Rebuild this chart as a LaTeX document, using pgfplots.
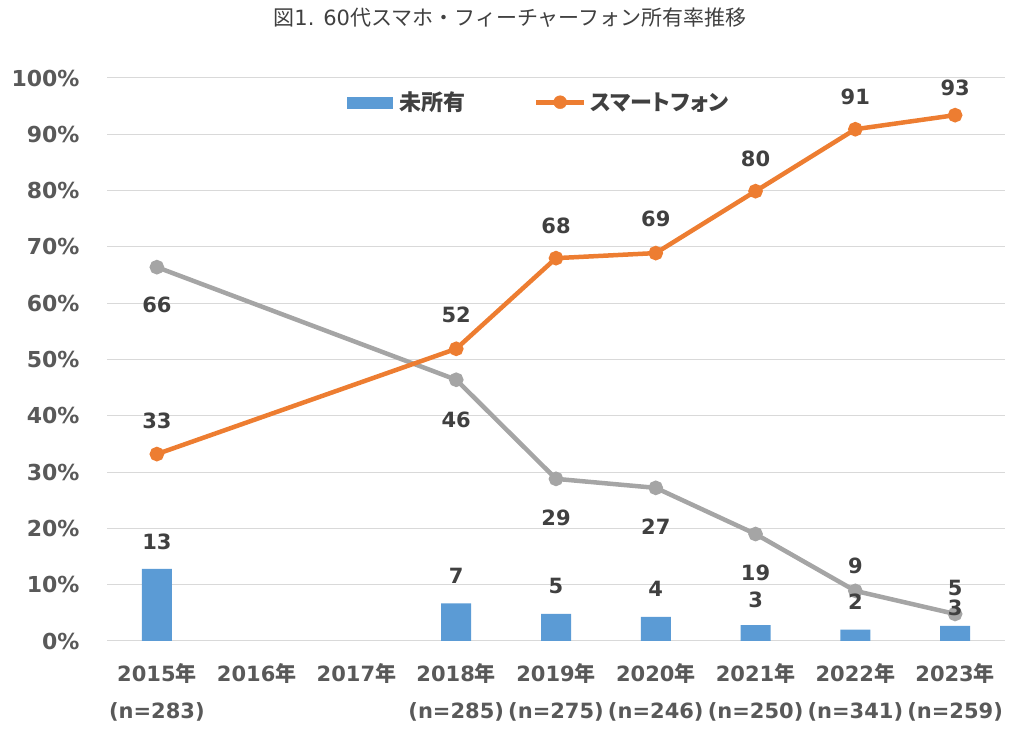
\documentclass[border=0pt]{standalone}
\usepackage{fontspec}
\setmainfont{DejaVu Sans}
\newfontfamily\jp[RawFeature=+palt]{Noto Sans CJK JP}
\newfontfamily\jpt{Noto Sans CJK JP}
\usepackage{pgfplots}
\pgfplotsset{compat=1.18}
\usepackage{pgfplotstable}
\definecolor{cblue}{HTML}{5B9BD5}
\definecolor{corange}{HTML}{ED7D31}
\definecolor{cgray}{HTML}{A5A5A5}
\definecolor{ctext}{HTML}{404040}
\definecolor{ctick}{HTML}{595959}
\definecolor{cgrid}{HTML}{D9D9D9}

\pgfplotstableread{
x bar blab bdy smart slab sdy feat flab fdy
0 12.8 13 27 33.2 33 33 66.4 66 -38
3 6.7 7 27 51.9 52 34 46.4 46 -40
4 4.8 5 28 68.0 68 32 28.8 29 -39
5 4.3 4 28 68.9 69 34 27.2 27 -39
6 2.8 3 25 79.9 80 32 19.0 19 -39
7 2.0 2 28 90.9 91 32 8.9 9 25
8 2.7 3 18 93.4 93 27 4.8 5 26
}\data

\begin{document}
\begin{tikzpicture}
\path[use as bounding box] (0,0) rectangle (1018pt,736pt);
\node[text=ctext, font=\fontsize{21pt}{24pt}\selectfont] at (510pt,718pt) {{\jpt 図}1. 60{\jpt 代スマホ・フィーチャーフォン所有率推移}};
\begin{axis}[
  at={(107pt,95pt)}, anchor=south west,
  scale only axis, width=898pt, height=563pt,
  xmin=-0.5, xmax=8.5, ymin=0, ymax=100,
  clip=false,
  axis line style={draw=none},
  major tick length=0pt,
  ymajorgrids, grid style={color=cgrid, line width=1pt},
  ytick={0,10,...,100},
  yticklabels={0\%,10\%,20\%,30\%,40\%,50\%,60\%,70\%,80\%,90\%,100\%},
  yticklabel style={font=\fontsize{22pt}{26pt}\selectfont\bfseries, text=ctick, anchor=east, xshift=-24pt},
  xtick={0,...,8},
  xticklabels={
    {2015{\jp 年}\\(n=283)},
    {2016{\jp 年}},
    {2017{\jp 年}},
    {2018{\jp 年}\\(n=285)},
    {2019{\jp 年}\\(n=275)},
    {2020{\jp 年}\\(n=246)},
    {2021{\jp 年}\\(n=250)},
    {2022{\jp 年}\\(n=341)},
    {2023{\jp 年}\\(n=259)}},
  xticklabel style={font=\fontsize{21pt}{37pt}\selectfont\bfseries, text=ctick, align=center, anchor=north, yshift=-19pt},
  legend style={at={(0.481,0.957)}, anchor=center, draw=none, fill=none,
    font=\fontsize{22pt}{26pt}\selectfont\bfseries, text=ctext,
    legend columns=2,
    /tikz/every even column/.append style={column sep=66pt}},
  legend cell align=left,
]
\addlegendimage{legend image code/.code={\fill[cblue] (0pt,-5.5pt) rectangle (45pt,5.5pt);}}
\addlegendentry{\hspace{5pt}{\jpt 未所有}}
\addlegendimage{legend image code/.code={\draw[corange, line width=5pt] (0pt,0pt) -- (48pt,0pt); \fill[corange] (24pt,0pt) circle (6.5pt);}}
\addlegendentry{\hspace{2pt}{\jp スマートフォン}}
\addplot[color=cgray, line width=4.5pt, mark=*, mark size=5pt, forget plot,
  point meta=explicit symbolic,
  visualization depends on={\thisrow{fdy} \as \fdy},
  nodes near coords,
  every node near coord/.append style={anchor=center, inner sep=0pt, yshift=\fdy*1pt, text=ctext, font=\fontsize{21pt}{25pt}\selectfont\bfseries},
] table[x=x, y=feat, meta=flab] {\data};
\addplot[color=corange, line width=4.5pt, mark=*, mark size=5pt, forget plot,
  point meta=explicit symbolic,
  visualization depends on={\thisrow{sdy} \as \sdy},
  nodes near coords,
  every node near coord/.append style={anchor=center, inner sep=0pt, yshift=\sdy*1pt, text=ctext, font=\fontsize{21pt}{25pt}\selectfont\bfseries},
] table[x=x, y=smart, meta=slab] {\data};
\addplot[fill=cblue, draw=none, ybar, bar width=30pt, forget plot,
  point meta=explicit symbolic,
  visualization depends on={\thisrow{bdy} \as \bdy},
  nodes near coords,
  every node near coord/.append style={anchor=center, inner sep=0pt, yshift=\bdy*1pt, text=ctext, font=\fontsize{21pt}{25pt}\selectfont\bfseries},
] table[x=x, y=bar, meta=blab] {\data};
\end{axis}
\end{tikzpicture}
\end{document}
